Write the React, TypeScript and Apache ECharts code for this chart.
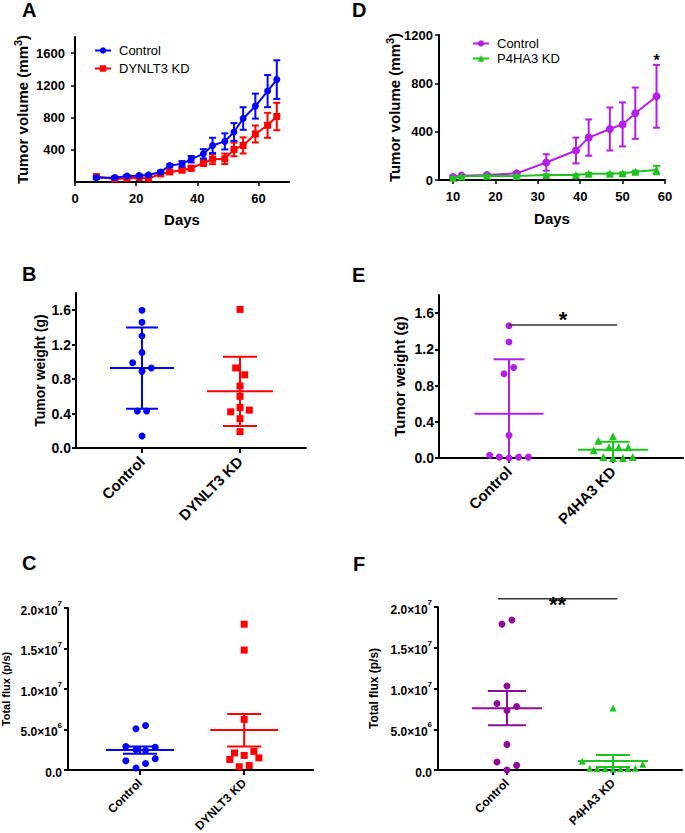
import React, { useEffect, useRef } from 'react';
import * as echarts from 'echarts';

const FONT = "'Liberation Sans', Arial, Helvetica, sans-serif";

// ---------- Panel A: tumor volume (DYNLT3) ----------
const aDays = [7, 13, 17, 21, 24, 28, 31, 35, 38, 42, 45, 49, 52, 55, 59, 63, 66];
const aControl = [54, 54, 75, 79, 88, 125, 204, 225, 283, 350, 454, 504, 621, 788, 942, 1129, 1271];
const aControlErr = [12, 10, 12, 12, 12, 15, 15, 33, 40, 58, 95, 100, 110, 140, 155, 200, 240];
const aKD = [67, 37, 46, 54, 46, 100, 125, 146, 171, 238, 283, 288, 404, 454, 596, 704, 813];
const aKDErr = [10, 8, 10, 10, 10, 12, 15, 20, 30, 40, 62, 65, 85, 100, 105, 155, 170];
const aXTicks = [0, 20, 40, 60];
const aYTicks = [400, 800, 1200, 1600];

// ---------- Panel D: tumor volume (P4HA3) ----------
const dDays = [10, 12, 18, 25, 32, 39, 42, 47, 50, 53, 58];
const dControl = [25, 36, 41, 55, 145, 244, 351, 422, 460, 553, 693];
const dControlErr = [8, 8, 8, 10, 68, 107, 150, 178, 182, 212, 260];
const dKD = [19, 30, 35, 33, 41, 41, 52, 52, 55, 68, 82];
const dKDErr = [5, 5, 5, 6, 6, 6, 8, 8, 8, 10, 35];
const dXTicks = [10, 20, 30, 40, 50, 60];
const dSig = [58, 1010];

// ---------- Panel B: tumor weight (DYNLT3) ----------
const bCats = ['Control', 'DYNLT3 KD'];
const bControl = [1.6, 1.46, 1.3, 1.11, 0.99, 0.93, 0.89, 0.43, 0.43, 0.14];
const bControlJit = [0, 0, 0, 0, -0.095, 0.095, 0, -0.047, 0.047, 0];
const bControlStats = [0.93, 0.455, 1.4];
const bKD = [1.61, 0.93, 0.85, 0.72, 0.6, 0.47, 0.42, 0.44, 0.34, 0.19];
const bKDJit = [0, -0.044, 0.048, 0, 0, 0, -0.095, 0.095, 0, 0];
const bKDStats = [0.66, 0.255, 1.06];

// ---------- Panel E: tumor weight (P4HA3) ----------
const eCats = ['Control', 'P4HA3 KD'];
const eControl = [1.46, 1.28, 1.0, 0.93, 0.25, 0.03, 0.01, 0.0, 0.01, 0.01];
const eControlJit = [0, 0, 0.045, -0.048, 0, -0.186, -0.093, 0, 0.093, 0.186];
const eControlStats = [0.49, 0, 1.09];
const eKD = [0.24, 0.19, 0.12, 0.12, 0.12, 0.085, 0.01, 0.0, 0.0, 0.01];
const eKDJit = [0, -0.141, -0.038, 0.054, 0.147, -0.186, -0.093, 0, 0.096, 0.19];
const eKDStats = [0.09, 0, 0.18];
const eSig = [0, 1.04, 1.47];

// ---------- Panel C: total flux (DYNLT3) ----------
const cCats = ['Control', 'DYNLT3 KD'];
const cControl = [5.5e6, 5.1e6, 2.9e6, 2.8e6, 2.5e6, 2.4e6, 1.4e6, 1.15e6, 0.8e6, 0.25e6];
const cControlJit = [0.054, -0.038, -0.135, 0.147, -0.038, 0.054, 0.147, -0.135, 0.054, -0.038];
const cControlStats = [2.47e6, 2.0e6, 2.9e6];
const cKD = [18.0e6, 14.8e6, 6.25e6, 2.1e6, 2.3e6, 1.8e6, 1.3e6, 1.5e6, 0.4e6, 0.55e6];
const cKDJit = [0, 0, 0, -0.093, 0.093, 0, -0.138, 0.141, -0.048, 0.048];
const cKDStats = [4.94e6, 2.9e6, 6.9e6];

// ---------- Panel F: total flux (P4HA3) ----------
const fCats = ['Control', 'P4HA3 KD'];
const fControl = [18.4e6, 17.9e6, 10.3e6, 8.16e6, 7.8e6, 7.3e6, 3.14e6, 0.98e6, 0.57e6, 0];
const fControlJit = [0.047, -0.047, 0, -0.094, 0.091, 0, 0, -0.094, 0.091, 0];
const fControlStats = [7.57e6, 5.48e6, 9.7e6];
const fKD = [7.6e6, 1.07e6, 0.7e6, 0.2e6, 0.15e6, 0.15e6, 0.1e6, 0.15e6, 0.15e6, 0.2e6];
const fKDJit = [0, -0.29, 0.28, -0.22, -0.15, -0.075, 0, 0.07, 0.14, 0.21];
const fKDStats = [1.1e6, 0.36e6, 1.84e6];
const fSig = [-0.085, 1.04, 21e6];

const BLUE = '#0000ff';
const RED = '#ff0000';
const PURPLE = '#b41ee6';
const DPURPLE = '#8e0a98';
const GREEN = '#1fc31f';

const lbl = { color: '#000', fontFamily: FONT, fontWeight: 'bold' as const };
const axLine = (w = 2) => ({ show: true, onZero: false, lineStyle: { color: '#000', width: w } });
const plain = (v: number) => String(v);

const volName = '{a|Tumor volume (mm}{s|3}{a|)}';
const volRich = {
  a: { fontSize: 15, fontWeight: 'bold', fontFamily: FONT, color: '#000', lineHeight: 18, verticalAlign: 'bottom' },
  s: { fontSize: 11, fontWeight: 'bold', fontFamily: FONT, color: '#000', lineHeight: 11, verticalAlign: 'top' },
};

function errRender(color: string, capHalf: number) {
  return (params: any, api: any) => {
    const x = api.value(0), y = api.value(1), e = api.value(2);
    const hi = api.coord([x, y + e]);
    const lo = api.coord([x, Math.max(y - e, 0)]);
    const st = { stroke: color, lineWidth: 2 };
    return {
      type: 'group',
      children: [
        { type: 'line', shape: { x1: hi[0], y1: hi[1], x2: lo[0], y2: lo[1] }, style: st },
        { type: 'line', shape: { x1: hi[0] - capHalf, y1: hi[1], x2: hi[0] + capHalf, y2: hi[1] }, style: st },
        { type: 'line', shape: { x1: lo[0] - capHalf, y1: lo[1], x2: lo[0] + capHalf, y2: lo[1] }, style: st },
      ],
    };
  };
}

function statsRender(color: string, halfMean: number, halfCap: number) {
  return (params: any, api: any) => {
    const x = api.value(0), m = api.value(1), lo = api.value(2), hi = api.value(3);
    const pm = api.coord([x, m]);
    const pl = api.coord([x, lo]);
    const ph = api.coord([x, hi]);
    const st = { stroke: color, lineWidth: 2 };
    const children: any[] = [
      { type: 'line', shape: { x1: pm[0] - halfMean, y1: pm[1], x2: pm[0] + halfMean, y2: pm[1] }, style: st },
      { type: 'line', shape: { x1: pl[0], y1: pl[1], x2: ph[0], y2: ph[1] }, style: st },
      { type: 'line', shape: { x1: ph[0] - halfCap, y1: ph[1], x2: ph[0] + halfCap, y2: ph[1] }, style: st },
    ];
    if (lo > 0) {
      children.push({ type: 'line', shape: { x1: pl[0] - halfCap, y1: pl[1], x2: pl[0] + halfCap, y2: pl[1] }, style: st });
    }
    return { type: 'group', children };
  };
}

function sigRender(text: string, fontSize: number, dy: number, withLine: boolean) {
  return (params: any, api: any) => {
    const x1 = api.value(0), x2 = api.value(1), y = api.value(2);
    const p1 = api.coord([x1, y]);
    const p2 = api.coord([x2, y]);
    const children: any[] = [];
    if (withLine) {
      children.push({ type: 'line', shape: { x1: p1[0], y1: p1[1], x2: p2[0], y2: p2[1] }, style: { stroke: '#333', lineWidth: 1.5 } });
    }
    children.push({
      type: 'text',
      x: (p1[0] + p2[0]) / 2,
      y: p1[1] + dy,
      style: { text, fontSize, fontWeight: 'bold', fontFamily: FONT, fill: '#000', align: 'center', verticalAlign: 'middle' },
    });
    return { type: 'group', children };
  };
}

const pts = (vals: number[], jit: number[], idx: number) => vals.map((v, i) => [idx + jit[i], v]);

function fluxFmt(v: number) {
  if (v === 0) return '{m|0.0}';
  const exp = Math.floor(Math.log10(v) + 1e-9);
  const mant = v / Math.pow(10, exp);
  return `{m|${mant.toFixed(1)}×10}{s|${exp}}`;
}
const fluxRich = {
  m: { fontSize: 12, fontWeight: 'bold', fontFamily: FONT, color: '#000', lineHeight: 17, verticalAlign: 'bottom' },
  s: { fontSize: 8, fontWeight: 'bold', fontFamily: FONT, color: '#000', lineHeight: 9, verticalAlign: 'top' },
};

function catXAxis(gridIndex: number, min: number, max: number, cats: string[], fontSize: number) {
  return {
    type: 'value', gridIndex, min, max,
    axisLine: axLine(2),
    axisTick: { show: true, customValues: [0, 1], length: 5, lineStyle: { color: '#000', width: 2 } },
    axisLabel: { ...lbl, fontSize, rotate: 45, margin: 11, customValues: [0, 1], formatter: (v: number) => cats[Math.round(v)] ?? '' },
    splitLine: { show: false },
  };
}

export default function App() {
  const ref = useRef<HTMLDivElement>(null);
  useEffect(() => {
    document.body.style.margin = '0';
    const chart = echarts.init(ref.current!, null, { renderer: 'svg' });
    const option: any = {
      animation: false,
      backgroundColor: '#fff',
      textStyle: { fontFamily: FONT },
      graphic: [
        { type: 'text', left: 22, top: 0, style: { text: 'A', font: `bold 20px ${FONT}`, fill: '#000' } },
        { type: 'text', left: 22, top: 264, style: { text: 'B', font: `bold 20px ${FONT}`, fill: '#000' } },
        { type: 'text', left: 22, top: 553, style: { text: 'C', font: `bold 20px ${FONT}`, fill: '#000' } },
        { type: 'text', left: 352, top: 0, style: { text: 'D', font: `bold 20px ${FONT}`, fill: '#000' } },
        { type: 'text', left: 352, top: 265, style: { text: 'E', font: `bold 20px ${FONT}`, fill: '#000' } },
        { type: 'text', left: 353, top: 554, style: { text: 'F', font: `bold 20px ${FONT}`, fill: '#000' } },
      ],
      grid: [
        { left: 75, top: 37, width: 214, height: 145, outerBoundsMode: 'none' }, // A
        { left: 439, top: 35, width: 226, height: 145, outerBoundsMode: 'none' }, // D
        { left: 76, top: 293, width: 230, height: 155, outerBoundsMode: 'none' }, // B
        { left: 439, top: 295, width: 244, height: 163, outerBoundsMode: 'none' }, // E
        { left: 68, top: 608, width: 245, height: 162, outerBoundsMode: 'none' }, // C
        { left: 438, top: 607, width: 244, height: 163, outerBoundsMode: 'none' }, // F
      ],
      legend: [
        {
          data: ['A:Control', 'A:DYNLT3 KD'], orient: 'vertical', left: 89, top: 39,
          itemWidth: 16, itemHeight: 8, itemGap: 5,
          formatter: (n: string) => n.slice(2),
          textStyle: { fontSize: 13, fontFamily: FONT, color: '#000', padding: [0, 0, 0, 3] },
        },
        {
          data: ['D:Control', 'D:P4HA3 KD'], orient: 'vertical', left: 467, top: 32,
          itemWidth: 16, itemHeight: 8, itemGap: 2,
          formatter: (n: string) => n.slice(2),
          textStyle: { fontSize: 13, fontFamily: FONT, color: '#000', padding: [0, 0, 0, 3] },
        },
      ],
      xAxis: [
        {
          type: 'value', gridIndex: 0, min: 0, max: 70,
          name: 'Days', nameLocation: 'middle', nameGap: 30, nameMoveOverlap: false,
          nameTextStyle: { ...lbl, fontSize: 15 },
          axisLine: axLine(2),
          axisTick: { show: true, customValues: aXTicks, length: 4, lineStyle: { color: '#000', width: 1.5 } },
          axisLabel: { ...lbl, fontSize: 13, margin: 10, customValues: aXTicks, formatter: plain },
          splitLine: { show: false },
        },
        {
          type: 'value', gridIndex: 1, min: 6.7, max: 60,
          name: 'Days', nameLocation: 'middle', nameGap: 31, nameMoveOverlap: false,
          nameTextStyle: { ...lbl, fontSize: 15 },
          axisLine: axLine(2),
          axisTick: { show: true, customValues: dXTicks, length: 4, lineStyle: { color: '#000', width: 1.5 } },
          axisLabel: { ...lbl, fontSize: 13, margin: 10, customValues: dXTicks, formatter: plain },
          splitLine: { show: false },
        },
        catXAxis(2, -0.673, 1.673, bCats, 15),
        catXAxis(3, -0.673, 1.673, eCats, 15),
        catXAxis(4, -0.69, 1.66, cCats, 12),
        catXAxis(5, -0.65, 1.65, fCats, 12),
      ],
      yAxis: [
        {
          type: 'value', gridIndex: 0, min: 0, max: 1800,
          name: volName, nameLocation: 'middle', nameRotate: 90, nameGap: 45, nameMoveOverlap: false,
          nameTextStyle: { ...lbl, fontSize: 15, rich: volRich },
          axisLine: axLine(2),
          axisTick: { show: true, customValues: aYTicks, length: 4, lineStyle: { color: '#000', width: 1.5 } },
          axisLabel: { ...lbl, fontSize: 13, margin: 10, customValues: aYTicks, formatter: plain },
          splitLine: { show: false },
        },
        {
          type: 'value', gridIndex: 1, min: 0, max: 1200, interval: 400,
          name: volName, nameLocation: 'middle', nameRotate: 90, nameGap: 37, nameMoveOverlap: false,
          nameTextStyle: { ...lbl, fontSize: 15, rich: volRich },
          axisLine: axLine(2),
          axisTick: { show: true, length: 4, lineStyle: { color: '#000', width: 1.5 } },
          axisLabel: { ...lbl, fontSize: 13, margin: 6, formatter: plain },
          splitLine: { show: false },
        },
        {
          type: 'value', gridIndex: 2, min: 0, max: 1.8,
          name: 'Tumor weight (g)', nameLocation: 'middle', nameRotate: 90, nameGap: 29, nameMoveOverlap: false,
          nameTextStyle: { ...lbl, fontSize: 14 },
          axisLine: axLine(2),
          axisTick: { show: true, customValues: [0, 0.4, 0.8, 1.2, 1.6], length: 4, lineStyle: { color: '#000', width: 2 } },
          axisLabel: { ...lbl, fontSize: 14, margin: 5, customValues: [0, 0.4, 0.8, 1.2, 1.6], formatter: (v: number) => v.toFixed(1) },
          splitLine: { show: false },
        },
        {
          type: 'value', gridIndex: 3, min: 0, max: 1.8,
          name: 'Tumor weight (g)', nameLocation: 'middle', nameRotate: 90, nameGap: 32, nameMoveOverlap: false,
          nameTextStyle: { ...lbl, fontSize: 15 },
          axisLine: axLine(2),
          axisTick: { show: true, customValues: [0, 0.4, 0.8, 1.2, 1.6], length: 4, lineStyle: { color: '#000', width: 2 } },
          axisLabel: { ...lbl, fontSize: 14, margin: 5, customValues: [0, 0.4, 0.8, 1.2, 1.6], formatter: (v: number) => v.toFixed(1) },
          splitLine: { show: false },
        },
        {
          type: 'value', gridIndex: 4, min: 0, max: 2e7, interval: 5e6,
          name: 'Total flux (p/s)', nameLocation: 'middle', nameRotate: 90, nameGap: 57, nameMoveOverlap: false,
          nameTextStyle: { ...lbl, fontSize: 11 },
          axisLine: axLine(2),
          axisTick: { show: true, length: 4, lineStyle: { color: '#000', width: 2 } },
          axisLabel: { margin: 6, formatter: fluxFmt, rich: fluxRich },
          splitLine: { show: false },
        },
        {
          type: 'value', gridIndex: 5, min: 0, max: 2e7, interval: 5e6,
          name: 'Total flux (p/s)', nameLocation: 'middle', nameRotate: 90, nameGap: 58, nameMoveOverlap: false,
          nameTextStyle: { ...lbl, fontSize: 12 },
          axisLine: axLine(2),
          axisTick: { show: true, length: 4, lineStyle: { color: '#000', width: 2 } },
          axisLabel: { margin: 6, formatter: fluxFmt, rich: fluxRich },
          splitLine: { show: false },
        },
      ],
      series: [
        // A
        {
          name: 'A:Control', type: 'line', xAxisIndex: 0, yAxisIndex: 0,
          data: aDays.map((d, i) => [d, aControl[i]]),
          symbol: 'circle', symbolSize: 7, itemStyle: { color: BLUE }, lineStyle: { color: BLUE, width: 2 }, z: 4,
        },
        {
          name: 'A:DYNLT3 KD', type: 'line', xAxisIndex: 0, yAxisIndex: 0,
          data: aDays.map((d, i) => [d, aKD[i]]),
          symbol: 'rect', symbolSize: 7, itemStyle: { color: RED }, lineStyle: { color: RED, width: 2 }, z: 3,
        },
        {
          type: 'custom', xAxisIndex: 0, yAxisIndex: 0, z: 4,
          renderItem: errRender(BLUE, 3.5), data: aDays.map((d, i) => [d, aControl[i], aControlErr[i]]),
        },
        {
          type: 'custom', xAxisIndex: 0, yAxisIndex: 0, z: 3,
          renderItem: errRender(RED, 3.5), data: aDays.map((d, i) => [d, aKD[i], aKDErr[i]]),
        },
        // D
        {
          name: 'D:Control', type: 'line', xAxisIndex: 1, yAxisIndex: 1,
          data: dDays.map((d, i) => [d, dControl[i]]),
          symbol: 'circle', symbolSize: 8, itemStyle: { color: PURPLE }, lineStyle: { color: PURPLE, width: 2 }, z: 3,
        },
        {
          name: 'D:P4HA3 KD', type: 'line', xAxisIndex: 1, yAxisIndex: 1,
          data: dDays.map((d, i) => [d, dKD[i]]),
          symbol: 'triangle', symbolSize: 8, itemStyle: { color: GREEN }, lineStyle: { color: GREEN, width: 2 }, z: 4,
        },
        {
          type: 'custom', xAxisIndex: 1, yAxisIndex: 1, z: 3,
          renderItem: errRender(PURPLE, 3.5), data: dDays.map((d, i) => [d, dControl[i], dControlErr[i]]),
        },
        {
          type: 'custom', xAxisIndex: 1, yAxisIndex: 1, z: 4,
          renderItem: errRender(GREEN, 3.5), data: dDays.map((d, i) => [d, dKD[i], dKDErr[i]]),
        },
        {
          type: 'custom', xAxisIndex: 1, yAxisIndex: 1, z: 5,
          renderItem: sigRender('*', 16, 3, false), data: [[dSig[0], dSig[0], dSig[1]]],
        },
        // B
        { type: 'custom', xAxisIndex: 2, yAxisIndex: 2, renderItem: statsRender(BLUE, 32, 16), data: [[0, ...bControlStats]] },
        { type: 'custom', xAxisIndex: 2, yAxisIndex: 2, renderItem: statsRender(RED, 33, 17), data: [[1, ...bKDStats]] },
        { type: 'scatter', xAxisIndex: 2, yAxisIndex: 2, symbol: 'circle', symbolSize: 7, itemStyle: { color: BLUE, opacity: 1 }, data: pts(bControl, bControlJit, 0), z: 5 },
        { type: 'scatter', xAxisIndex: 2, yAxisIndex: 2, symbol: 'rect', symbolSize: 7, itemStyle: { color: RED, opacity: 1 }, data: pts(bKD, bKDJit, 1), z: 5 },
        // E
        { type: 'custom', xAxisIndex: 3, yAxisIndex: 3, renderItem: statsRender(PURPLE, 34.5, 15.5), data: [[0, ...eControlStats]] },
        { type: 'custom', xAxisIndex: 3, yAxisIndex: 3, renderItem: statsRender(GREEN, 35, 16.5), data: [[1, ...eKDStats]] },
        { type: 'scatter', xAxisIndex: 3, yAxisIndex: 3, symbol: 'circle', symbolSize: 7, itemStyle: { color: PURPLE, opacity: 1 }, data: pts(eControl, eControlJit, 0), z: 5 },
        { type: 'scatter', xAxisIndex: 3, yAxisIndex: 3, symbol: 'triangle', symbolSize: 8, itemStyle: { color: GREEN, opacity: 1 }, data: pts(eKD, eKDJit, 1), z: 5 },
        { type: 'custom', xAxisIndex: 3, yAxisIndex: 3, z: 6, renderItem: sigRender('*', 22, -5, true), data: [eSig] },
        // C
        { type: 'custom', xAxisIndex: 4, yAxisIndex: 4, renderItem: statsRender(BLUE, 34, 17), data: [[0, ...cControlStats]] },
        { type: 'custom', xAxisIndex: 4, yAxisIndex: 4, renderItem: statsRender(RED, 34, 17), data: [[1, ...cKDStats]] },
        { type: 'scatter', xAxisIndex: 4, yAxisIndex: 4, symbol: 'circle', symbolSize: 7, itemStyle: { color: BLUE, opacity: 1 }, data: pts(cControl, cControlJit, 0), z: 5 },
        { type: 'scatter', xAxisIndex: 4, yAxisIndex: 4, symbol: 'rect', symbolSize: 7, itemStyle: { color: RED, opacity: 1 }, data: pts(cKD, cKDJit, 1), z: 5 },
        // F
        { type: 'custom', xAxisIndex: 5, yAxisIndex: 5, renderItem: statsRender(DPURPLE, 35, 19), data: [[0, ...fControlStats]] },
        { type: 'custom', xAxisIndex: 5, yAxisIndex: 5, renderItem: statsRender(GREEN, 35, 17), data: [[1, ...fKDStats]] },
        { type: 'scatter', xAxisIndex: 5, yAxisIndex: 5, symbol: 'circle', symbolSize: 7, itemStyle: { color: DPURPLE, opacity: 1 }, data: pts(fControl, fControlJit, 0), z: 5 },
        { type: 'scatter', xAxisIndex: 5, yAxisIndex: 5, symbol: 'triangle', symbolSize: 7, itemStyle: { color: GREEN, opacity: 1 }, data: pts(fKD, fKDJit, 1), z: 5 },
        { type: 'custom', xAxisIndex: 5, yAxisIndex: 5, z: 6, renderItem: sigRender('**', 22, 6, true), data: [fSig] },
      ],
    };
    chart.setOption(option);
    return () => chart.dispose();
  }, []);
  return <div ref={ref} style={{ position: 'absolute', left: 0, top: 0, width: 685, height: 833, background: '#fff' }} />;
}
